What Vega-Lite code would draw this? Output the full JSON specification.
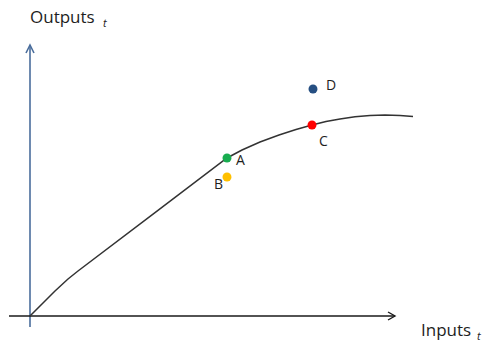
{
  "$schema": "https://vega.github.io/schema/vega-lite/v6.json",
  "width": 485,
  "height": 343,
  "autosize": {"type": "fit", "contains": "padding"},
  "padding": 0,
  "background": "white",
  "config": {"view": {"stroke": null}},
  "datasets": {
    "curve": [
      {"i": 0, "x": 0, "y": 0},
      {"i": 1, "x": 25, "y": 25},
      {"i": 2, "x": 38, "y": 37},
      {"i": 3, "x": 48, "y": 45},
      {"i": 4, "x": 125, "y": 103.4},
      {"i": 5, "x": 197, "y": 158},
      {"i": 6, "x": 212, "y": 166},
      {"i": 7, "x": 230, "y": 174},
      {"i": 8, "x": 249, "y": 181},
      {"i": 9, "x": 266, "y": 186.5},
      {"i": 10, "x": 282, "y": 191},
      {"i": 11, "x": 296, "y": 194.5},
      {"i": 12, "x": 310, "y": 197},
      {"i": 13, "x": 325, "y": 199.3},
      {"i": 14, "x": 340, "y": 200.6},
      {"i": 15, "x": 355, "y": 201},
      {"i": 16, "x": 370, "y": 200.5},
      {"i": 17, "x": 383, "y": 199.6}
    ],
    "xaxis": [
      {"seg": "line", "i": 0, "x": -21, "y": 0},
      {"seg": "line", "i": 1, "x": 365, "y": 0},
      {"seg": "head", "i": 0, "x": 358, "y": 4},
      {"seg": "head", "i": 1, "x": 365, "y": 0},
      {"seg": "head", "i": 2, "x": 358, "y": -4}
    ],
    "yaxis": [
      {"seg": "line", "i": 0, "x": 0, "y": -11},
      {"seg": "line", "i": 1, "x": 0, "y": 271},
      {"seg": "head", "i": 0, "x": -4, "y": 263},
      {"seg": "head", "i": 1, "x": 0, "y": 271},
      {"seg": "head", "i": 2, "x": 4, "y": 263}
    ],
    "points": [
      {"name": "A", "x": 197, "y": 158, "lx": 206, "ly": 155},
      {"name": "B", "x": 197, "y": 139, "lx": 184, "ly": 131},
      {"name": "C", "x": 282, "y": 191, "lx": 289, "ly": 174},
      {"name": "D", "x": 283, "y": 227, "lx": 296, "ly": 230}
    ],
    "titles": [
      {"t": "Outputs", "x": 0, "y": 298, "s": "main"},
      {"t": "t", "x": 73, "y": 292, "s": "sub"},
      {"t": "Inputs", "x": 391, "y": -15, "s": "main"},
      {"t": "t", "x": 447, "y": -21, "s": "sub"}
    ]
  },
  "encoding": {
    "x": {"type": "quantitative", "scale": {"domain": [-30, 455], "nice": false, "zero": false}, "axis": null},
    "y": {"type": "quantitative", "scale": {"domain": [-27, 316], "nice": false, "zero": false}, "axis": null}
  },
  "layer": [
    {
      "data": {"name": "yaxis"},
      "mark": {"type": "line", "color": "#4a6d9c", "strokeWidth": 1.6},
      "encoding": {"x": {"field": "x"}, "y": {"field": "y"}, "detail": {"field": "seg"}, "order": {"field": "i"}}
    },
    {
      "data": {"name": "xaxis"},
      "mark": {"type": "line", "color": "#1a1a1a", "strokeWidth": 1.4},
      "encoding": {"x": {"field": "x"}, "y": {"field": "y"}, "detail": {"field": "seg"}, "order": {"field": "i"}}
    },
    {
      "data": {"name": "curve"},
      "mark": {"type": "line", "color": "#333333", "strokeWidth": 1.5, "interpolate": "linear"},
      "encoding": {"x": {"field": "x"}, "y": {"field": "y"}, "order": {"field": "i"}}
    },
    {
      "data": {"name": "points"},
      "mark": {"type": "circle", "size": 80, "opacity": 1},
      "encoding": {
        "x": {"field": "x"},
        "y": {"field": "y"},
        "color": {"field": "name", "type": "nominal", "legend": null,
          "scale": {"domain": ["A", "B", "C", "D"], "range": ["#18ad50", "#ffc000", "#ff0000", "#264f82"]}}
      }
    },
    {
      "data": {"name": "points"},
      "mark": {"type": "text", "fontSize": 14, "font": "Open Sans", "color": "#1e1e1e", "align": "left", "baseline": "middle"},
      "encoding": {"x": {"field": "lx"}, "y": {"field": "ly"}, "text": {"field": "name"}}
    },
    {
      "data": {"name": "titles"},
      "transform": [{"filter": "datum.s === 'main'"}],
      "mark": {"type": "text", "fontSize": 17, "font": "Open Sans", "color": "#1e1e1e", "align": "left", "baseline": "middle"},
      "encoding": {"x": {"field": "x"}, "y": {"field": "y"}, "text": {"field": "t"}}
    },
    {
      "data": {"name": "titles"},
      "transform": [{"filter": "datum.s === 'sub'"}],
      "mark": {"type": "text", "fontSize": 11, "font": "Open Sans", "fontStyle": "italic", "color": "#1e1e1e", "align": "left", "baseline": "middle"},
      "encoding": {"x": {"field": "x"}, "y": {"field": "y"}, "text": {"field": "t"}}
    }
  ]
}
